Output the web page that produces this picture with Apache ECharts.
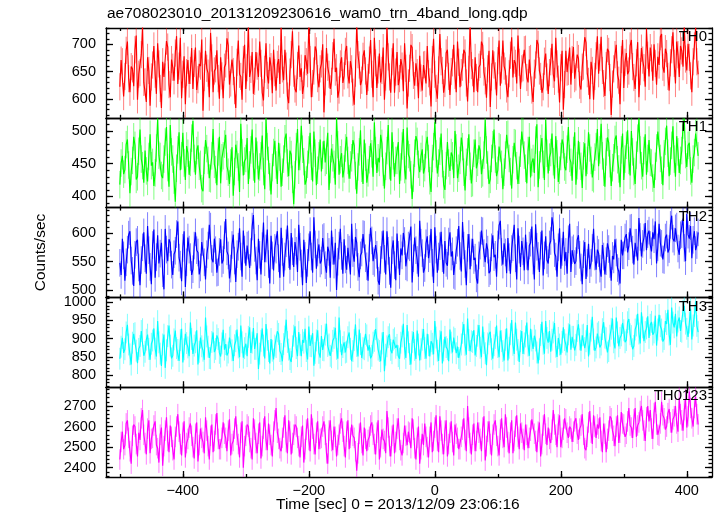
<!DOCTYPE html>
<html><head><meta charset="utf-8">
<script src="https://cdn.jsdelivr.net/npm/echarts@6/dist/echarts.min.js"></script>
<style>html,body{margin:0;padding:0;background:#fff}#c{width:717px;height:516px}</style>
</head><body><div id="c"></div>
<script>
const chartTitle = 'ae708023010_20131209230616_wam0_trn_4band_long.qdp';
const xName = 'Time [sec] 0 = 2013/12/09 23:06:16';
const yName = 'Counts/sec';
const tStart = -500, tStep = 2;
const bandNames = ['TH0', 'TH1', 'TH2', 'TH3', 'TH0123'];
const bandColors = ['#ff0000', '#00ff00', '#0000ff', '#00ffff', '#ff00ff'];
const bandFaint = ['rgba(255,0,0,0.5)', 'rgba(0,255,0,0.5)', 'rgba(0,0,255,0.5)', 'rgba(0,255,255,0.5)', 'rgba(255,0,255,0.5)'];
// half-length of the (lighter) error bars
const bandErrors = [25, 21, 24, 30, 50];

const th0 = [
622,671,668,604,641,689,705,637,612,659,655,623,690,716,598,645,648,681,733,630,
631,594,676,652,587,640,662,697,645,609,702,664,619,583,668,640,640,706,695,626,
603,672,658,633,684,715,627,660,712,601,645,678,590,648,671,627,652,693,618,665,
694,616,635,664,660,709,578,639,688,656,647,603,721,675,612,651,655,689,637,600,
676,642,601,658,664,711,698,626,629,672,650,615,583,667,707,645,641,598,672,699,
618,657,735,640,654,686,609,632,686,660,640,705,665,611,597,654,702,643,628,676,
659,610,690,648,615,663,673,627,731,655,634,690,660,605,592,649,681,724,647,618,
612,661,698,640,656,609,625,680,668,646,738,672,603,628,651,696,688,637,621,655,
664,700,575,631,693,658,645,618,632,679,710,649,657,602,616,664,676,629,642,687,
697,644,628,669,655,612,589,647,736,681,662,625,634,678,689,651,607,639,671,708,
645,603,712,666,620,653,683,630,652,694,598,640,731,677,640,611,668,702,611,649,
686,625,637,673,660,614,702,656,582,629,656,699,694,643,624,665,648,601,679,638,
615,662,663,628,697,646,631,586,672,710,645,619,600,653,719,668,652,611,628,684,
690,641,607,650,666,699,643,612,705,667,621,648,658,690,684,629,595,654,737,661,
648,612,676,639,612,658,663,705,698,649,633,602,655,688,585,640,689,662,642,606,
670,707,624,653,707,660,651,618,603,646,680,713,639,671,665,628,716,667,618,655,
657,690,691,639,630,672,674,616,594,647,662,708,700,651,641,611,622,669,683,640,
609,648,668,701,645,632,712,664,636,593,657,688,580,626,688,649,650,694,626,672,
695,637,640,681,674,625,617,658,660,713,703,646,632,599,668,652,598,641,679,715,
646,676,714,652,628,605,661,692,687,639,570,627,655,681,699,644,634,590,672,708,
620,667,684,645,651,697,708,659,639,618,666,704,603,650,693,671,657,622,728,680,
641,694,675,633,700,665,626,677,662,714,719,658,648,692,683,641,615,666,690,722,
665,628,705,681,640,697,688,659,735,673,652,701,676,642,612,668,697,731,668,645];

const th1 = [
418,451,462,434,441,479,487,448,405,438,455,491,478,426,430,469,502,457,447,421,
470,439,423,461,495,447,452,416,436,474,518,463,461,432,428,457,483,506,444,415,
509,468,457,425,392,443,471,498,440,462,497,451,425,477,466,433,452,489,515,458,
433,470,478,446,449,412,408,455,486,473,455,428,427,462,503,449,441,417,468,491,
420,459,462,480,494,446,437,419,451,475,401,438,479,464,445,407,511,467,432,454,
458,489,419,448,471,502,445,421,490,463,426,445,462,493,438,411,519,476,455,430,
403,444,467,485,448,419,482,460,415,437,457,488,496,451,431,470,464,426,388,433,
476,503,440,461,508,472,453,418,425,449,471,497,446,423,499,466,417,440,462,487,
438,463,485,452,455,497,410,441,473,459,449,418,520,479,433,456,466,429,442,474,
491,455,427,448,459,486,478,432,404,445,468,501,443,419,487,460,421,436,456,481,
465,430,513,470,436,459,452,494,481,437,412,446,470,509,447,424,498,462,430,455,
455,483,419,445,477,503,441,426,505,464,459,433,396,428,466,492,484,449,437,461,
472,435,444,479,491,458,424,407,458,476,513,465,435,451,469,496,450,418,410,447,
483,451,439,467,462,428,500,474,428,443,455,490,476,437,409,452,468,495,446,420,
421,466,487,443,452,478,470,434,436,463,517,471,448,419,426,458,479,502,457,431,
440,476,474,449,411,437,463,494,495,458,438,412,456,482,481,447,419,440,466,499,
501,463,443,420,470,491,429,452,458,436,486,510,414,448,473,489,449,425,517,466,
435,460,467,496,453,427,492,465,422,440,461,487,479,445,440,472,506,458,452,424,
470,498,418,447,485,462,446,413,462,481,431,455,498,474,455,429,427,460,476,503,
446,471,511,462,437,415,468,490,482,450,416,444,459,487,493,456,442,414,471,496,
425,457,478,501,455,432,500,468,438,419,463,489,519,471,447,430,470,495,433,458,
486,452,451,428,413,446,474,499,496,458,440,417,465,484,508,466,431,454,478,507,
457,430,492,468,436,455,470,509,518,464,445,478,482,439,421,457,467,496,498,462];

const th2 = [
548,527,590,561,517,549,571,597,603,552,534,508,562,584,588,540,509,553,575,601,
556,529,612,570,541,511,579,606,522,558,596,547,564,583,530,502,607,571,551,589,
583,545,527,563,569,598,620,557,545,516,574,603,506,549,592,571,558,527,537,578,
601,570,566,528,540,584,585,549,519,563,578,614,611,555,549,590,570,531,532,567,
589,547,553,596,624,568,561,521,538,579,597,552,515,563,576,608,559,524,604,571,
543,578,580,539,567,611,631,574,552,518,590,562,528,577,618,549,573,606,546,512,
595,561,535,574,571,603,556,522,609,567,524,559,582,613,563,536,600,568,541,584,
569,532,614,576,547,509,588,560,513,548,575,603,559,531,627,580,538,566,580,547,
552,591,593,544,531,576,567,522,604,569,545,583,501,550,578,607,560,529,589,554,
536,574,571,528,616,565,550,593,583,541,523,561,566,598,597,556,542,517,574,609,
587,551,548,579,562,517,510,553,579,604,555,528,603,569,534,505,570,587,544,518,
599,562,527,573,561,600,586,542,540,578,575,611,514,556,592,570,553,524,621,583,
565,531,539,582,594,556,572,607,548,513,610,571,531,559,577,602,556,529,586,548,
543,585,601,559,568,527,525,570,583,612,560,533,619,578,546,509,574,598,537,566,
590,553,557,521,512,561,578,604,603,565,549,582,571,530,534,575,596,558,562,524,
580,613,621,567,545,582,566,530,591,558,529,572,575,614,556,519,608,571,541,586,
568,535,597,560,535,578,583,611,552,519,615,576,560,532,578,604,526,561,594,553,
547,580,586,627,612,565,559,524,575,608,538,567,602,551,567,529,589,616,532,570,
573,546,551,588,596,562,540,511,563,584,520,548,581,537,548,574,607,559,536,571,
565,538,524,579,559,528,551,582,572,546,517,560,554,589,566,539,533,512,588,561,
561,592,598,566,577,608,609,571,545,583,583,552,626,593,559,581,592,617,570,598,
604,579,568,601,589,620,547,575,616,583,581,554,553,592,597,566,572,614,630,590,
585,608,611,573,562,596,598,625,574,551,633,597,590,612,556,588,603,570,579,601];

const th3 = [
845,878,902,861,871,917,938,884,857,829,889,913,915,867,833,872,880,921,926,853,
864,897,911,872,842,886,895,928,873,851,948,890,859,825,884,911,820,868,907,936,
881,846,853,898,922,874,869,839,896,927,835,871,913,888,876,852,944,899,858,881,
890,923,829,864,903,879,867,842,958,906,878,847,846,891,917,863,872,909,899,861,
851,887,924,870,885,854,862,903,907,868,839,882,893,925,876,849,936,890,848,874,
886,852,905,931,861,889,929,872,872,915,817,859,894,928,881,846,940,897,866,832,
899,867,843,881,877,920,913,866,858,838,885,906,952,891,870,844,836,879,908,934,
874,852,918,883,852,896,889,927,866,843,933,880,879,915,826,861,895,923,861,848,
907,869,868,911,941,880,884,853,849,894,902,930,872,845,958,893,855,877,890,862,
864,904,917,872,838,866,896,939,880,851,925,885,847,874,871,913,909,867,882,846,
853,889,894,926,928,870,866,838,887,918,811,856,879,904,912,869,860,897,901,875,
883,852,845,889,906,941,873,847,937,890,858,829,891,918,869,844,922,884,840,871,
897,926,874,845,913,882,851,893,886,857,948,903,867,839,893,920,832,868,905,877,
871,838,925,889,862,903,899,860,878,847,842,884,916,940,883,856,955,896,866,893,
891,923,854,880,908,937,875,849,933,888,860,827,887,912,919,871,845,882,902,936,
877,849,922,893,866,840,897,928,840,875,912,951,883,858,944,897,869,836,893,921,
858,887,906,944,881,853,927,895,872,908,895,862,832,871,910,946,886,859,948,902,
889,921,864,897,917,943,878,850,902,884,856,891,931,896,884,862,912,939,870,905,
905,868,883,921,939,898,867,909,911,874,893,937,851,886,922,960,898,867,876,914,
918,876,884,926,945,903,901,862,866,908,927,955,890,873,958,917,879,902,909,943,
923,890,896,945,954,912,907,871,880,925,936,968,914,887,972,931,893,918,928,961,
902,938,946,911,917,963,881,925,965,934,925,892,899,948,940,979,911,883,985,944,
931,968,906,947,958,921,919,976,990,941,927,905,944,982,898,936,962,1002,935,918];

const th0123 = [
2440,2525,2575,2490,2510,2615,2630,2545,2480,2420,2555,2610,2600,2515,2455,2570,2535,2640,2680,2560,
2520,2465,2590,2630,2470,2540,2545,2605,2625,2510,2495,2425,2560,2595,2410,2505,2580,2645,2530,2475,
2605,2550,2485,2440,2550,2600,2660,2575,2515,2460,2570,2625,2450,2520,2540,2595,2615,2555,2500,2445,
2565,2620,2430,2510,2590,2545,2525,2470,2645,2580,2505,2440,2555,2610,2475,2530,2610,2665,2540,2490,
2490,2545,2620,2565,2545,2480,2580,2635,2460,2515,2530,2590,2650,2560,2515,2450,2570,2625,2400,2505,
2555,2610,2600,2525,2495,2440,2640,2585,2520,2470,2565,2620,2445,2505,2590,2650,2535,2485,2615,2560,
2510,2455,2575,2630,2690,2570,2540,2495,2480,2545,2595,2655,2525,2470,2630,2575,2465,2520,2560,2610,
2600,2545,2505,2450,2550,2605,2425,2490,2585,2640,2535,2480,2660,2590,2515,2465,2570,2625,2490,2540,
2545,2600,2625,2560,2470,2420,2580,2630,2530,2485,2600,2550,2455,2510,2560,2615,2640,2575,2505,2450,
2575,2630,2490,2545,2610,2555,2545,2480,2385,2470,2565,2620,2520,2460,2595,2540,2480,2535,2550,2605,
2620,2560,2515,2465,2570,2630,2440,2500,2585,2540,2530,2470,2675,2595,2505,2455,2555,2610,2470,2525,
2590,2640,2535,2485,2460,2520,2605,2555,2510,2575,2570,2495,2640,2585,2495,2440,2545,2600,2420,2490,
2565,2510,2615,2550,2500,2450,2550,2620,2475,2530,2595,2655,2530,2475,2650,2580,2515,2465,2580,2630,
2455,2515,2570,2625,2525,2460,2610,2565,2545,2490,2490,2550,2585,2640,2535,2480,2700,2595,2520,2465,
2560,2615,2480,2530,2620,2570,2540,2480,2595,2650,2435,2505,2575,2625,2515,2460,2560,2610,2630,2555,
2505,2460,2585,2640,2545,2500,2660,2595,2525,2470,2570,2630,2470,2530,2600,2655,2550,2490,2615,2570,
2540,2485,2610,2560,2495,2545,2580,2635,2640,2565,2530,2475,2575,2620,2455,2515,2605,2660,2565,2510,
2595,2540,2520,2585,2680,2610,2560,2500,2610,2655,2500,2545,2585,2640,2635,2570,2545,2600,2590,2525,
2575,2625,2640,2565,2535,2590,2605,2660,2560,2495,2485,2550,2620,2675,2570,2515,2655,2600,2545,2610,
2590,2645,2530,2475,2615,2565,2475,2540,2580,2650,2640,2580,2555,2505,2600,2655,2520,2570,2670,2615,
2610,2550,2565,2625,2690,2605,2595,2545,2635,2690,2550,2605,2620,2675,2700,2630,2580,2530,2645,2700,
2625,2680,2590,2540,2665,2720,2610,2560,2555,2615,2720,2655,2640,2585,2600,2665,2685,2620,2570,2635,
2650,2700,2615,2575,2740,2660,2630,2580,2680,2735,2595,2650,2770,2690,2640,2600,2690,2745,2660,2610];

const xRange = [-522, 440];
const xMajorTicks = [-400, -200, 0, 200, 400];
const xMinorTicks = [-500, -400, -300, -200, -100, 0, 100, 200, 300, 400];
const yRanges = [[565, 730], [383, 520], [488, 644], [767, 1013], [2355, 2791]];
const yMajorTicks = [[600, 650, 700], [400, 450, 500], [500, 550, 600], [800, 850, 900, 950, 1000], [2400, 2500, 2600, 2700]];
const yMinorStep = [10, 10, 10, 10, 20];

const bands = [th0, th1, th2, th3, th0123];

const FONT = 'Liberation Sans, Arial, Helvetica, sans-serif';
const L = 106, R = 5, TOP = 28, H = 89.8;
const lineStyle = { color: '#000', width: 1.3 };
const grids = [], xAxes = [], yAxes = [], series = [], titles = [];

titles.push({ text: chartTitle, left: 107, top: 6, padding: 0,
  textStyle: { fontFamily: FONT, fontSize: 15.5, fontWeight: 'normal', color: '#000' } });
titles.push({ text: xName, left: 276, top: 497, padding: 0,
  textStyle: { fontFamily: FONT, fontSize: 15.5, fontWeight: 'normal', color: '#000' } });

const minus = v => String(v).replace('-', '\u2212');

bands.forEach((vals, i) => {
  const top = TOP + i * H;
  const g = grids.length;
  grids.push({ left: L, right: R, top: top, height: H });
  const go = grids.length;
  grids.push({ left: L, right: R, top: top, height: H });

  const minors = [];
  const st = yMinorStep[i];
  for (let v = Math.ceil(yRanges[i][0] / st) * st; v <= yRanges[i][1]; v += st) minors.push(v);

  let mainX = -1, mainY = -1;
  ['bottom', 'top'].forEach(pos => {
    if (pos === 'bottom') mainX = xAxes.length;
    xAxes.push({
      gridIndex: g, type: 'value', position: pos, min: xRange[0], max: xRange[1],
      axisLine: { show: true, onZero: false, lineStyle },
      axisTick: { show: true, inside: true, length: 6, customValues: xMajorTicks, lineStyle },
      axisLabel: { show: i === 4 && pos === 'bottom', customValues: xMajorTicks, formatter: minus,
        fontFamily: FONT, fontSize: 14.5, color: '#000', margin: 6 },
      splitLine: { show: false }
    });
    xAxes.push({
      gridIndex: go, type: 'value', position: pos, min: xRange[0], max: xRange[1],
      axisLine: { show: false, onZero: false },
      axisTick: { show: true, inside: true, length: 3, customValues: xMinorTicks, lineStyle },
      axisLabel: { show: false },
      splitLine: { show: false }
    });
  });
  ['left', 'right'].forEach(pos => {
    if (pos === 'left') mainY = yAxes.length;
    const ax = {
      gridIndex: g, type: 'value', position: pos, min: yRanges[i][0], max: yRanges[i][1],
      axisLine: { show: true, onZero: false, lineStyle },
      axisTick: { show: true, inside: true, length: 7, customValues: yMajorTicks[i], lineStyle },
      axisLabel: { show: pos === 'left', customValues: yMajorTicks[i], formatter: v => String(v),
        fontFamily: FONT, fontSize: 14.5, color: '#000', margin: 10 },
      splitLine: { show: false }
    };
    if (i === 2 && pos === 'left') {
      ax.name = yName; ax.nameLocation = 'middle'; ax.nameGap = 57;
      ax.nameTextStyle = { fontFamily: FONT, fontSize: 15.5, color: '#000' };
    }
    yAxes.push(ax);
    yAxes.push({
      gridIndex: go, type: 'value', position: pos, min: yRanges[i][0], max: yRanges[i][1],
      axisLine: { show: false, onZero: false },
      axisTick: { show: true, inside: true, length: 3.5, customValues: minors, lineStyle },
      axisLabel: { show: false },
      splitLine: { show: false }
    });
  });

  const err = bandErrors[i];
  const pts = vals.map((v, k) => [tStart + k * tStep, v]);
  const bars = vals.map((v, k) => [tStart + k * tStep, v, err]);
  const faint = bandFaint[i];
  series.push({
    type: 'custom', xAxisIndex: mainX, yAxisIndex: mainY, data: bars, silent: true,
    animation: false, clip: true, z: 2, encode: { x: 0, y: 1 },
    renderItem: (params, api) => {
      const x = api.value(0), y = api.value(1), e = api.value(2);
      const p1 = api.coord([x, y - e]), p2 = api.coord([x, y + e]);
      return { type: 'line', shape: { x1: p1[0], y1: p1[1], x2: p2[0], y2: p2[1] },
        style: { stroke: faint, lineWidth: 1 } };
    }
  });
  series.push({ type: 'line', xAxisIndex: mainX, yAxisIndex: mainY, data: pts, showSymbol: false,
    silent: true, animation: false, clip: true,
    lineStyle: { color: bandColors[i], width: 1.15 }, z: 3 });

  titles.push({ text: bandNames[i], right: 10, top: top + 1.5, padding: 0,
    textStyle: { fontFamily: FONT, fontSize: 15, fontWeight: 'normal', color: '#000' } });
});

const chart = echarts.init(document.getElementById('c'), null, { renderer: 'canvas' });
chart.setOption({
  animation: false,
  backgroundColor: '#fff',
  title: titles,
  grid: grids,
  xAxis: xAxes,
  yAxis: yAxes,
  series: series
});
</script>
</body></html>
